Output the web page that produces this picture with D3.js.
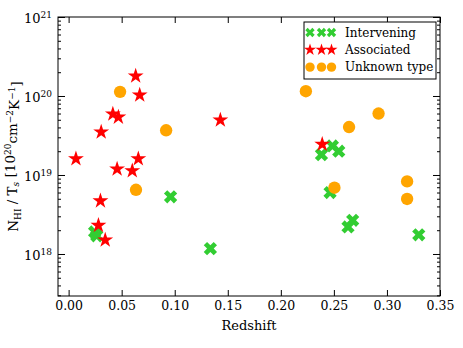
<!DOCTYPE html>
<html lang="en">
<head>
<meta charset="UTF-8">
<title>HI column density vs redshift</title>
<script src="https://d3js.org/d3.v7.min.js"></script>
<style>
  body { margin: 0; background: #fff; }
</style>
</head>
<body>
<svg width="463" height="348"></svg>
<script>
// data (redshift, N_HI/T_s)
var intervZ  = [0.0961, 0.0245, 0.0265, 0.1336, 0.2486, 0.2383, 0.2546, 0.2464, 0.2677, 0.2633, 0.330];
var intervN  = [5.3e18, 1.9e18, 1.7e18, 1.17e18, 2.33e19, 1.81e19, 2.0e19, 6.0e18, 2.67e18, 2.2e18, 1.75e18];
var assocZ   = [0.0632, 0.0670, 0.0417, 0.0469, 0.0307, 0.0069, 0.0657, 0.0457, 0.0600, 0.0300, 0.0281, 0.0345, 0.143, 0.239];
var assocN   = [1.79e20, 1.03e20, 5.9e19, 5.4e19, 3.5e19, 1.6e19, 1.6e19, 1.19e19, 1.13e19, 4.7e18, 2.3e18, 1.5e18, 4.97e19, 2.45e19];
var unknownZ = [0.0485, 0.0919, 0.0635, 0.2236, 0.2921, 0.2643, 0.2505, 0.319, 0.319];
var unknownN = [1.13e20, 3.68e19, 6.5e18, 1.15e20, 6.0e19, 4.05e19, 6.9e18, 8.3e18, 4.97e18];
var xTicks = [0, 0.05, 0.10, 0.15, 0.20, 0.25, 0.30, 0.35];
var yTicks = [1e18, 1e19, 1e20, 1e21];
var legendLabels = ["Intervening", "Associated", "Unknown type"];

var FONT = "'DejaVu Serif', 'Liberation Serif', serif";

var svg = d3.select("svg").style("font-family", FONT),
    margin = {top: 17, right: 23, bottom: 52, left: 58},
    width = +svg.attr("width") - margin.left - margin.right,
    height = +svg.attr("height") - margin.top - margin.bottom,
    g = svg.append("g").attr("transform", "translate(" + margin.left + "," + margin.top + ")");

var x = d3.scaleLinear().domain([-0.01, 0.35]).range([0, width]);
var y = d3.scaleLog().domain([2.94e17, 1e21]).range([height, 0]);

// minor log ticks
var minor = [];
[17, 18, 19, 20].forEach(function(e) {
  for (var k = 2; k <= 9; k++) {
    var v = k * Math.pow(10, e);
    if (v >= y.domain()[0] && v <= 1e21) minor.push(v);
  }
});

function styleAxis(sel) {
  sel.attr("font-family", FONT);
  sel.select(".domain").remove();
  sel.selectAll(".tick line").attr("stroke", "#000");
}

g.append("g").attr("transform", "translate(0," + height + ")")
  .call(d3.axisBottom(x).tickValues(xTicks).tickSize(-6).tickPadding(5).tickFormat(d3.format(".2f")))
  .call(styleAxis)
  .selectAll("text").style("font-size", "12.5px").style("font-family", FONT);
g.append("g")
  .call(d3.axisTop(x).tickValues(xTicks).tickSize(-6).tickFormat(""))
  .call(styleAxis);

var yl = g.append("g")
  .call(d3.axisLeft(y).tickValues(yTicks).tickSize(-7).tickPadding(6).tickFormat(""))
  .call(styleAxis);
yl.selectAll(".tick text").each(function(d) {
  var t = d3.select(this).style("font-size", "13px").style("font-family", FONT).attr("dy", "0.45em");
  t.append("tspan").text("10");
  t.append("tspan").attr("dy", "-0.55em").style("font-size", "9px").text(Math.round(Math.log10(d)));
});
g.append("g").call(d3.axisLeft(y).tickValues(minor).tickSize(-3).tickFormat("")).call(styleAxis);
g.append("g").attr("transform", "translate(" + width + ",0)")
  .call(d3.axisRight(y).tickValues(yTicks).tickSize(-7).tickFormat("")).call(styleAxis);
g.append("g").attr("transform", "translate(" + width + ",0)")
  .call(d3.axisRight(y).tickValues(minor).tickSize(-3).tickFormat("")).call(styleAxis);

g.append("rect").attr("width", width).attr("height", height)
  .attr("fill", "none").attr("stroke", "#000").attr("stroke-width", 1);

// markers
var starPath = d3.symbol(d3.symbolStar, 78)();
var circPath = d3.symbol(d3.symbolCircle, 120)();
var crossPath = d3.symbol(d3.symbolCross, 110)();
var series = [
  {z: intervZ, n: intervN, path: crossPath, rot: 45, color: "#32cd32"},
  {z: assocZ, n: assocN, path: starPath, rot: 0, color: "#ff0000"},
  {z: unknownZ, n: unknownN, path: circPath, rot: 0, color: "#ffa500"}
];

series.forEach(function(s) {
  g.append("g").selectAll("path").data(s.z).join("path")
    .attr("d", s.path)
    .attr("fill", s.color)
    .attr("transform", function(d, i) {
      return "translate(" + x(d) + "," + y(s.n[i]) + ") rotate(" + s.rot + ")";
    });
});

// axis labels
svg.append("text").attr("x", margin.left + width / 2).attr("y", 330)
  .attr("text-anchor", "middle").style("font-family", FONT).style("font-size", "13px").text("Redshift");

var ylab = svg.append("text").attr("transform", "translate(18," + (margin.top + height / 2) + ") rotate(-90)")
  .attr("text-anchor", "middle").style("font-family", FONT).style("font-size", "13.5px");
ylab.append("tspan").text("N");
ylab.append("tspan").attr("dy", "0.3em").style("font-size", "9px").text("HI");
ylab.append("tspan").attr("dy", "-0.3em").text(" / T");
ylab.append("tspan").attr("dy", "0.3em").style("font-size", "9px").style("font-style", "italic").text("s");
ylab.append("tspan").attr("dy", "-0.3em").text(" [10");
ylab.append("tspan").attr("dy", "-0.45em").style("font-size", "9px").text("20");
ylab.append("tspan").attr("dy", "0.45em").text("cm");
ylab.append("tspan").attr("dy", "-0.45em").style("font-size", "9px").text("\u22122");
ylab.append("tspan").attr("dy", "0.45em").text("K");
ylab.append("tspan").attr("dy", "-0.45em").style("font-size", "9px").text("\u22121");
ylab.append("tspan").attr("dy", "0.45em").text("]");

// legend
var lg = svg.append("g").attr("transform", "translate(304,22)");
lg.append("rect").attr("width", 132).attr("height", 57)
  .attr("fill", "#fff").attr("stroke", "#000").attr("stroke-width", 1);
var legPaths = [d3.symbol(d3.symbolCross, 55)(), d3.symbol(d3.symbolStar, 45)(), d3.symbol(d3.symbolCircle, 70)()];
series.forEach(function(s, i) {
  var row = lg.append("g").attr("transform", "translate(0," + (10.5 + i * 17.3) + ")");
  [6, 17.5, 27.5].forEach(function(mx) {
    row.append("path").attr("d", legPaths[i]).attr("fill", s.color)
      .attr("transform", "translate(" + mx + ",0) rotate(" + s.rot + ")");
  });
  row.append("text").attr("x", 41).attr("dy", "0.35em").style("font-family", FONT)
    .style("font-size", "12px").text(legendLabels[i]);
});
</script>
</body>
</html>
